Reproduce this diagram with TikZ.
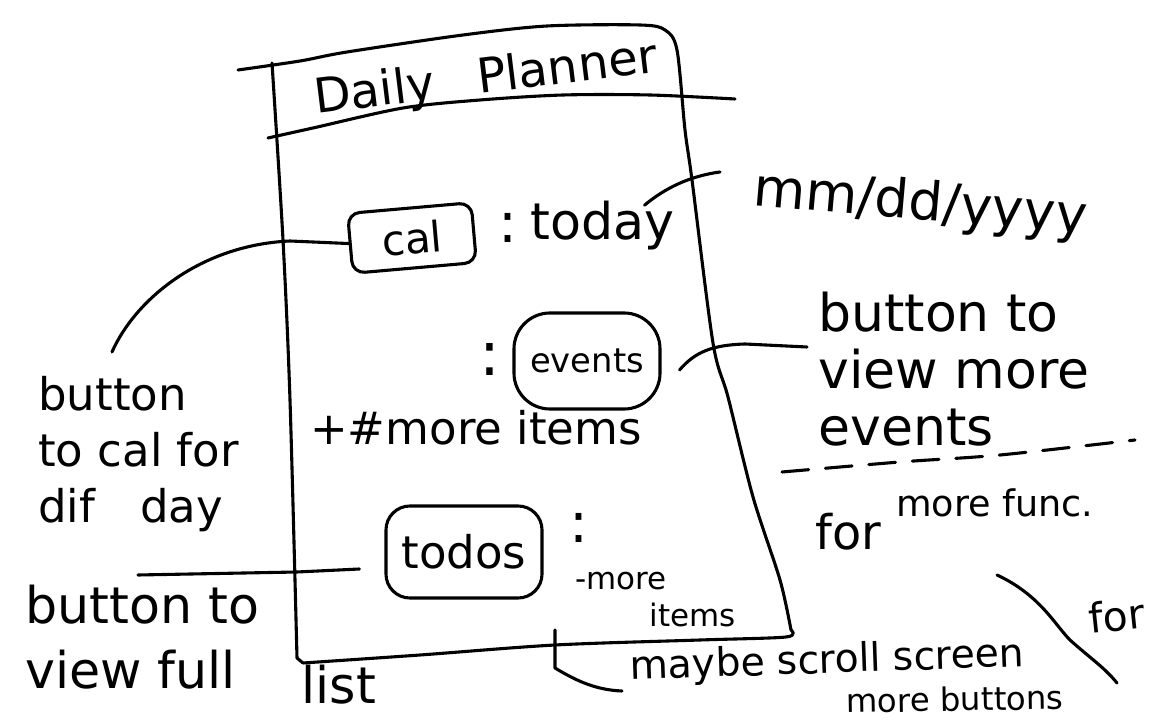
\documentclass[tikz,border=0pt]{standalone}
\usepackage{fontspec}
\setmainfont{DejaVu Sans}
\usetikzlibrary{calc}
\newcommand\fsz[2]{\fontsize{#1}{#2}\selectfont}
\begin{document}
\begin{tikzpicture}[x=0.025cm,y=-0.025cm,
  ink/.style={line width=2.2pt,line cap=round,line join=round},
  btn/.style={ink,draw,inner sep=0pt},
  note/.style={inner sep=0pt,align=left}]
\fill[white] (0,0) rectangle (1152,720);
\useasboundingbox (0,0) rectangle (1152,720);

% phone screen outline
\draw[ink] plot[smooth,tension=0.5] coordinates {(238,70) (300,61) (347,52) (463,35) (547,26) (640,25) (665,30) (677,50) (685,130) (692,180) (713,343) (728,397) (753,497) (780,580) (791,630)};
\draw[ink] plot[smooth,tension=0.5] coordinates {(272,63) (283,240) (290,400) (297,658)} -- (303,663)
  plot[smooth,tension=0.5] coordinates {(303,663) (420,655) (555,645) (700,640) (786,637) (791,630)};
% title bar
\draw[ink] plot[smooth,tension=0.5] coordinates {(268,138) (313,128) (403,108) (480,100) (563,95) (650,95) (735,99)};
\node[note,anchor=base west,rotate=7,font=\fsz{34}{34}] (title) at (316,114) {Daily\hspace{0.9em}Planner};

% buttons and labels on the screen
\node[btn,minimum width=3.1cm,minimum height=1.5cm,rounded corners=0.3cm,rotate=5,font=\fsz{30}{30}] (cal) at (412,238) {cal};
\node[note,font=\fsz{40}{40}] (colA) at (508,228) {:};
\node[note,anchor=base west,font=\fsz{36}{36}] (today) at (530,240) {today};

\node[btn,minimum width=3.65cm,minimum height=2.4cm,rounded corners=0.9cm,font=\fsz{24}{24}] (events) at (587,361) {events};
\node[note,font=\fsz{44}{44}] (colB) at (490,360) {:};
\node[note,anchor=base west,font=\fsz{32}{32}] (moreA) at (310,445) {+\#more items};

\node[btn,minimum width=3.9cm,minimum height=2.3cm,rounded corners=0.6cm,font=\fsz{32}{32}] (todos) at (464,552) {todos};
\node[note,font=\fsz{40}{40}] (colC) at (579,528) {:};
\node[note,anchor=north west,font=\fsz{22}{26}] (moreB) at (575,572) {-more\\\hspace*{2.4em}items};

% notes around the screen
\node[note,anchor=base west,rotate=-5,font=\fsz{38}{38}] (date) at (752,205) {mm/dd/yyyy};
\node[note,anchor=north west,font=\fsz{37}{40.5}] (evnote) at (818,292) {button to\\view more\\events};
\node[note,anchor=base west,font=\fsz{34}{34}] (func) at (815,550) {for \raisebox{0.7em}{\fsz{26}{26}more func.}};
\node[note,anchor=north west,font=\fsz{32}{40}] (calnote) at (38,376) {button\\to cal for\\dif\quad day};
\node[note,anchor=north west,font=\fsz{36}{46}] (fullnote) at (25,585) {button to\\view full\hspace{1.3em}\raisebox{-0.3em}{list}};
\node[note,anchor=base west,rotate=2,font=\fsz{28}{28}] (maybe) at (630,680) {maybe scroll screen};
\node[note,anchor=base west,rotate=6,font=\fsz{29}{29}] (forB) at (1090,634) {for};
\node[note,anchor=base west,rotate=1,font=\fsz{23}{23}] (morebtn) at (846,713) {more buttons};

% connector ends
\coordinate (calTip) at (112,352);
\coordinate (dateTip) at (720,172);
\coordinate (evTip) at (807,347);
\coordinate (fullTip) at (138,575);
\coordinate (scrollTop) at (555,630);

% connectors
\draw[ink] (cal.west) -- (290,241) .. controls (200,245) and (135,300) .. (calTip);
\draw[ink] ($(today.north east)+(-30,4)$) .. controls (665,188) and (690,176) .. (dateTip);
\draw[ink] ($(events.east)+(18,9)$) .. controls (695,352) and (712,345) .. (745,344) -- (evTip);
\draw[ink] ($(todos.west)+(-25,17)$) -- (297,572) -- (fullTip);
\draw[ink] (scrollTop) -- (555,668) .. controls (575,680) and (595,690) .. ($(maybe.base west)+(-8,11)$);

% dashed separator and divider stroke
\draw[ink,dash pattern=on 19pt off 12pt] plot[smooth] coordinates {(782,472) (900,462) (1000,455) (1135,440)};
\draw[ink] (997,575) .. controls (1040,595) and (1055,625) .. (1070,640) .. controls (1090,658) and (1105,668) .. (1117,683);
\end{tikzpicture}
\end{document}
